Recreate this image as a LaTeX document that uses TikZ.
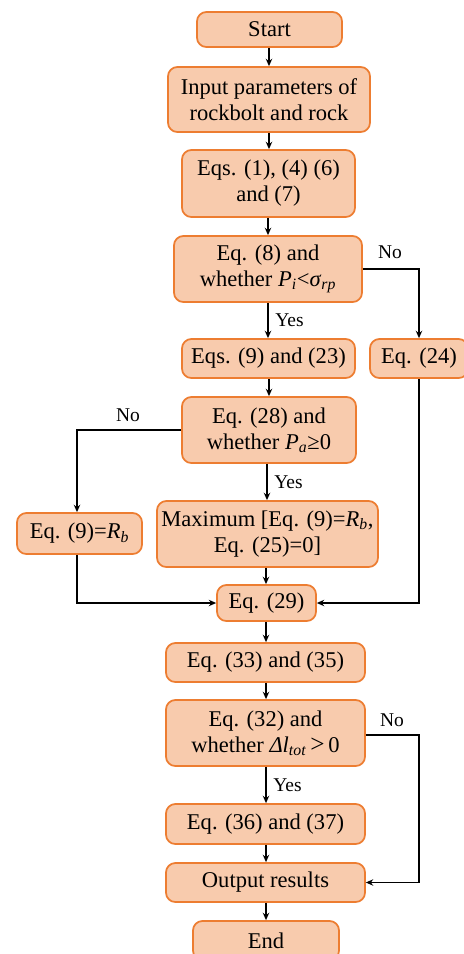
\documentclass[tikz,border=0pt]{standalone}
\usepackage{fontspec}
\setmainfont{Liberation Serif}
\usetikzlibrary{arrows.meta}
\definecolor{boxfill}{HTML}{F8CBAD}
\definecolor{boxline}{HTML}{ED7D31}
\newcommand{\vi}[1]{\textit{#1}}
\newcommand{\sbi}[1]{\textsubscript{\textit{#1}}}
\tikzset{
  box/.style={draw=boxline, fill=boxfill, line width=1.3pt, rounded corners=7pt,
    align=center, inner sep=0pt, font=\fontsize{16.9}{19.5}\selectfont},
  conn/.style={line width=0.95pt, -{Stealth[length=5.5pt,width=4.8pt]}},
  lbl/.style={font=\fontsize{14.6}{17}\selectfont, inner sep=0pt}
}
\begin{document}
\begin{tikzpicture}[x=0.75pt,y=-0.75pt]
\useasboundingbox (0,0) rectangle (464,954);
\clip (0,0) rectangle (464,954);
% boxes (centres and sizes in px)
\node[box, minimum width=108.75pt, minimum height=26.25pt] (start) at (269.5,29.5) {Start};
\node[box, minimum width=151.5pt, minimum height=48.75pt] (input) at (269,99.5) {Input parameters of\\rockbolt and rock};
\node[box, minimum width=129.75pt, minimum height=50.25pt] (eqa) at (268.5,183.5) {Eqs. (1), (4) (6)\\and (7)};
\node[box, minimum width=141pt, minimum height=49.5pt] (eqb) at (268,269) {Eq. (8) and\\whether \vi{P}\sbi{i}<\vi{σ}\sbi{rp}};
\node[box, minimum width=129.75pt, minimum height=29.25pt] (eqc) at (268.5,358.5) {Eqs. (9) and (23)};
\node[box, minimum width=73.5pt, minimum height=29.25pt] (eqd) at (419,358.5) {Eq. (24)};
\node[box, minimum width=130.5pt, minimum height=49.5pt] (eqe) at (269,430) {Eq. (28) and\\whether \vi{P}\sbi{a}≥0};
\node[box, minimum width=93.75pt, minimum height=30.75pt] (eqf) at (79.5,533.5) {Eq. (9)=\vi{R}\sbi{b}};
\node[box, minimum width=165.75pt, minimum height=49.5pt] (eqg) at (267.5,534) {Maximum [Eq. (9)=\vi{R}\sbi{b},\\Eq. (25)=0]};
\node[box, minimum width=74.25pt, minimum height=27pt] (eqh) at (266.5,603) {Eq. (29)};
\node[box, minimum width=149.25pt, minimum height=29.25pt] (eqi) at (265.5,662.5) {Eq. (33) and (35)};
\node[box, minimum width=149.25pt, minimum height=49.5pt] (eqj) at (265.5,733) {Eq. (32) and\\whether \vi{Δl}\sbi{tot}\,{\fontsize{19}{19}\selectfont >}\,0};
\node[box, minimum width=149.25pt, minimum height=30pt] (eqk) at (265.5,824) {Eq. (36) and (37)};
\node[box, minimum width=149.25pt, minimum height=29.25pt] (out) at (265.5,882.5) {Output results};
\node[box, minimum width=109.5pt, minimum height=29.25pt] (fin) at (266,940.5) {End};
% helper coordinates
\coordinate (rA) at (419,735);
\coordinate (lA) at (77,430);
% connectors
\draw[conn] (start.south -| 269,0) -- (input.north -| 269,0);
\draw[conn] (input.south -| 269,0) -- (eqa.north -| 269,0);
\draw[conn] (eqa.south -| 268,0) -- (eqb.north -| 268,0);
\draw[conn] (eqb.south -| 268,0) -- node[lbl, right=5pt, pos=0.5] {Yes} (eqc.north -| 268,0);
\draw[conn] (eqb.east) -| (eqd.north);
\node[lbl] (no1) at (390,252) {No};
\draw[conn] (eqc.south -| 269,0) -- (eqe.north -| 269,0);
\draw[conn] (eqe.west) -- (lA) -- (lA |- eqf.north);
\node[lbl] (no2) at (128,415) {No};
\draw[conn] (eqe.south -| 267,0) -- node[lbl, right=5pt, pos=0.5] {Yes} (eqg.north -| 267,0);
\draw[conn] (eqg.south -| 266,0) -- (eqh.north -| 266,0);
\draw[conn] (lA |- eqf.south) |- (eqh.west);
\draw[conn] (eqd.south) |- (eqh.east);
\draw[conn] (eqh.south -| 266,0) -- (eqi.north -| 266,0);
\draw[conn] (eqi.south -| 266,0) -- (eqj.north -| 266,0);
\draw[conn] (eqj.south -| 266,0) -- node[lbl, right=5pt, pos=0.5] {Yes} (eqk.north -| 266,0);
\draw[conn] (eqk.south -| 266,0) -- (out.north -| 266,0);
\draw[conn] (out.south -| 266,0) -- (fin.north -| 266,0);
\draw[conn] (eqj.east |- rA) -- (rA) |- (out.east);
\node[lbl] (no3) at (392,720) {No};
\end{tikzpicture}
\end{document}
